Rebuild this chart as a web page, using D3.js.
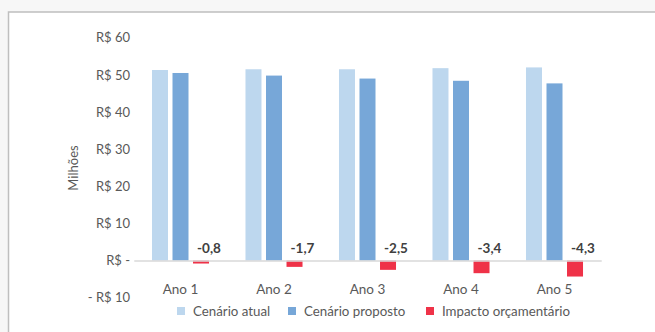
<!DOCTYPE html>
<html>
<head>
<meta charset="utf-8">
<script src="https://cdn.jsdelivr.net/npm/d3@7"></script>
<style>
  html, body { margin: 0; padding: 0; background: #f7f7f7; }
  svg { display: block; }
  text { font-family: Lato, "Open Sans", sans-serif; }
</style>
</head>
<body>
<svg id="chart" width="655" height="332"></svg>
<script>
// dados do gráfico
const anos = ['Ano 1', 'Ano 2', 'Ano 3', 'Ano 4', 'Ano 5'];
const cenarioAtual = [51.3, 51.5, 51.5, 51.8, 52.0];
const cenarioProposto = [50.5, 49.8, 49.0, 48.4, 47.7];
const impacto = [-0.8, -1.7, -2.5, -3.4, -4.3];
const series = ['Cenário atual', 'Cenário proposto', 'Impacto orçamentário'];
const yTicks = [-10, 0, 10, 20, 30, 40, 50, 60];

const cores = ['#bdd7ee', '#77a7d8', '#ef3248'];

let svg = d3.select('#chart');

// painel branco
svg.append('rect')
  .attr('x', 8.5).attr('y', 12)
  .attr('width', 700).attr('height', 340)
  .attr('fill', '#fff')
  .attr('stroke', '#bfbfbf')
  .attr('stroke-width', 1.5);

let x0 = d3.scaleBand()
  .domain(anos)
  .range([133.75, 601.25])
  .paddingInner(0.39)
  .paddingOuter(0.195);

let x1 = d3.scaleBand()
  .domain(series)
  .range([0, x0.bandwidth()])
  .paddingInner(0.22);

let y = d3.scaleLinear()
  .domain([-10, 60])
  .range([297.7, 37.7]);

const fmtTick = d => d === 0 ? 'R$ -' : (d < 0 ? '- R$ ' + Math.abs(d) : 'R$ ' + d);

// eixo y (só rótulos)
let yAxis = d3.axisLeft(y).tickValues(yTicks).tickSize(0).tickPadding(0).tickFormat(fmtTick);
let gy = svg.append('g')
  .attr('transform', 'translate(130,0)')
  .call(yAxis);
gy.select('.domain').remove();
gy.selectAll('text')
  .attr('fill', '#595959')
  .style('font-size', '13px')
  .style('font-family', 'Lato, sans-serif');

// título eixo y
svg.append('text')
  .attr('transform', 'translate(78,' + 168 + ') rotate(-90)')
  .attr('text-anchor', 'middle')
  .attr('fill', '#595959')
  .style('font-size', '13px')
  .text('Milhões');

// barras
let dados = anos.map((a, i) => ({ ano: a, vals: [cenarioAtual[i], cenarioProposto[i], impacto[i]] }));

let grupos = svg.append('g').selectAll('g')
  .data(dados)
  .enter().append('g')
  .attr('transform', d => 'translate(' + x0(d.ano) + ',0)');

grupos.selectAll('rect')
  .data(d => d.vals.map((v, j) => ({ serie: series[j], v: v, j: j })))
  .enter().append('rect')
  .attr('x', d => x1(d.serie))
  .attr('width', x1.bandwidth())
  .attr('y', d => y(Math.max(0, d.v)))
  .attr('height', d => Math.abs(y(d.v) - y(0)))
  .attr('fill', d => cores[d.j]);

// linha do zero
let xAxis = d3.axisBottom(x0).tickSize(0).tickPadding(0);
let gx = svg.append('g')
  .attr('transform', 'translate(0,' + y(0) + ')')
  .call(xAxis);
gx.select('.domain').attr('stroke', '#d9d9d9').attr('stroke-width', 1.5);
gx.selectAll('text')
  .attr('y', 0)
  .attr('dy', '33px')
  .attr('fill', '#595959')
  .style('font-size', '13.5px')
  .style('font-family', 'Lato, sans-serif');

// rótulos do impacto
grupos.append('text')
  .attr('x', (d) => x1(series[2]) + x1.bandwidth() / 2 + 8)
  .attr('y', y(0) - 8)
  .attr('text-anchor', 'middle')
  .attr('fill', '#404040')
  .style('font-size', '13.5px')
  .style('font-weight', 'bold')
  .text((d, i) => d3.format('.1f')(impacto[i]).replace('.', ',').replace('−', '-'));

// legenda
const legX = [177, 288, 426];
let leg = svg.append('g').selectAll('g')
  .data(series)
  .enter().append('g')
  .attr('transform', (d, i) => 'translate(' + legX[i] + ',307)');
leg.append('rect')
  .attr('width', 8).attr('height', 8)
  .attr('fill', (d, i) => cores[i]);
leg.append('text')
  .attr('x', 16).attr('y', 4)
  .attr('dy', '0.35em')
  .attr('fill', '#595959')
  .style('font-size', '13.3px')
  .text(d => d);
</script>
</body>
</html>
